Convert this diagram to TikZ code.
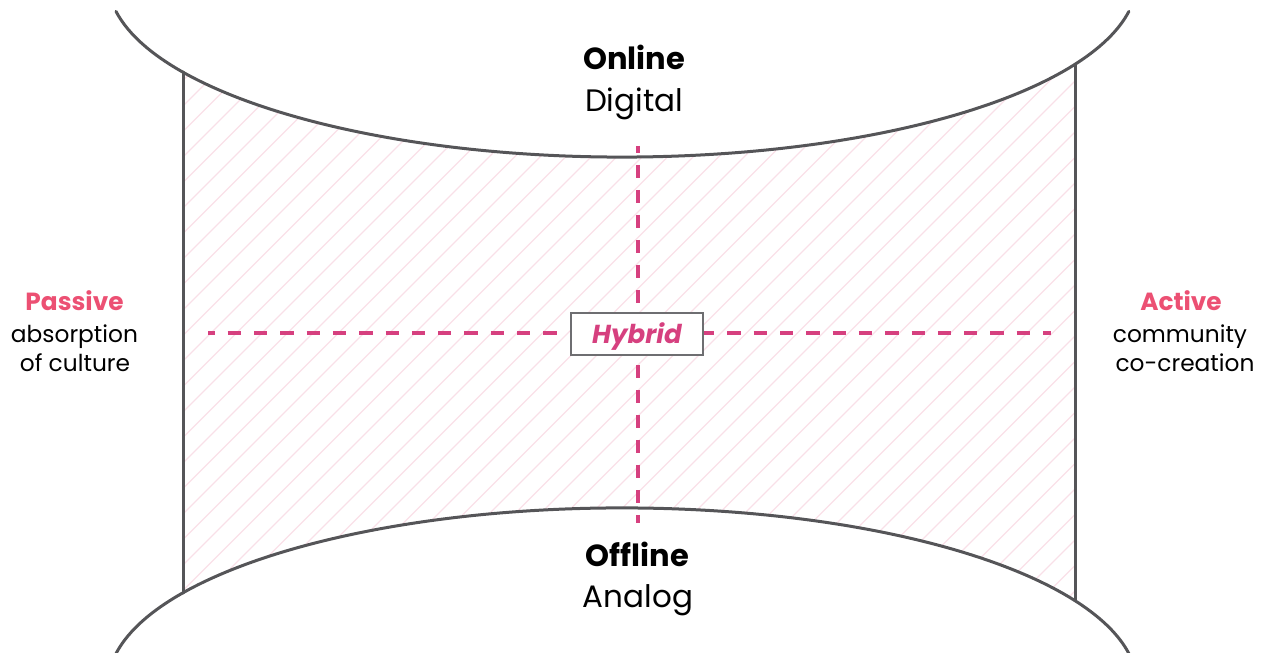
\documentclass[tikz,border=0pt]{standalone}
\usepackage{fontspec}
\setmainfont{Poppins}
\usetikzlibrary{positioning}
\definecolor{Rim}{RGB}{85,85,88}
\definecolor{Rose}{RGB}{236,80,115}
\definecolor{Berry}{RGB}{214,64,127}
\definecolor{Blush}{RGB}{249,224,232}
\tikzset{
  rim/.style={draw=Rim,line width=3pt,line cap=round},
  axis/.style={draw=Berry,line width=4pt},
  hatch/.style={draw=Blush,line width=1.3pt},
  pole/.style={font=\fontsize{30.5}{36}\selectfont\bfseries,anchor=base,inner sep=0pt},
  polesub/.style={font=\fontsize{31}{36}\selectfont,anchor=base,inner sep=0pt},
  side/.style={font=\fontsize{24.8}{28}\selectfont\bfseries,text=Rose,anchor=base,inner sep=0pt},
  sidesub/.style={font=\fontsize{23.3}{28}\selectfont,anchor=base,inner sep=0pt},
  hybridbox/.style={rectangle,draw=Rim!85,line width=1.3pt,fill=white,
                    minimum width=132pt,text height=31pt,text depth=11pt,inner sep=0pt,
                    font=\fontsize{26}{30}\selectfont\bfseries\itshape,text=Berry},
}

\begin{document}
\begin{tikzpicture}[x=1pt,y=1pt]
  \useasboundingbox (0,0) rectangle (1264,653);
  % corners of the band
  \coordinate (tl) at (183,580.9);
  \coordinate (tr) at (1075,588.7);
  \coordinate (bl) at (183,60.1);
  \coordinate (br) at (1075,52.3);
  \coordinate (topL) at (116,641.6);
  \coordinate (botL) at (116,-0.6);
  %
  \begin{scope}
    \clip (tl) arc[start angle=211.35,end angle=331.56,x radius=514.6,y radius=177]
      -- (br) arc[start angle=28.44,end angle=148.65,x radius=514.6,y radius=177] -- cycle;
    \foreach \o in {-695.5,-670,...,1100}
      \draw[hatch] (\o,0) -- ++(700,700);
  \end{scope}
  %
  \draw[rim] (topL) arc[start angle=190.2,end angle=349.8,x radius=514.6,y radius=177];
  \draw[rim] (botL) arc[start angle=169.8,end angle=10.2,x radius=514.6,y radius=177];
  \draw[rim] (tl) -- (bl);
  \draw[rim] (tr) -- (br);
  %
  \coordinate (west) at (208,320);
  \coordinate (east) at (1051,320);
  \coordinate (north) at (637.5,507);
  \coordinate (south) at (637.5,130.3);
  \draw[axis,dash pattern=on 13.3pt off 13pt,dash phase=6.6pt] (west) -- (east);
  \draw[axis,dash pattern=on 12.7pt off 12.3pt,dash phase=6pt] (north) -- (south);
  \node[hybridbox] (hybrid) at (637,319) {Hybrid};
  %
  \node[pole] (online) at (634,583) {Online};
  \node[polesub] (digital) at (634,541) {Digital};
  \node[pole] (offline) at (637.5,86) {Offline};
  \node[polesub] (analog) at (638,45) {Analog};
  %
  \node[side] (passive) at (74.5,342) {Passive};
  \node[sidesub] (absorb) at (74.5,310) {absorption};
  \node[sidesub] (culture) at (75,281.3) {of culture};
  \node[side] (active) at (1181,342) {Active};
  \node[sidesub] (community) at (1180,310) {community};
  \node[sidesub] (cocreate) at (1185,281.3) {co-creation};
\end{tikzpicture}
\end{document}
